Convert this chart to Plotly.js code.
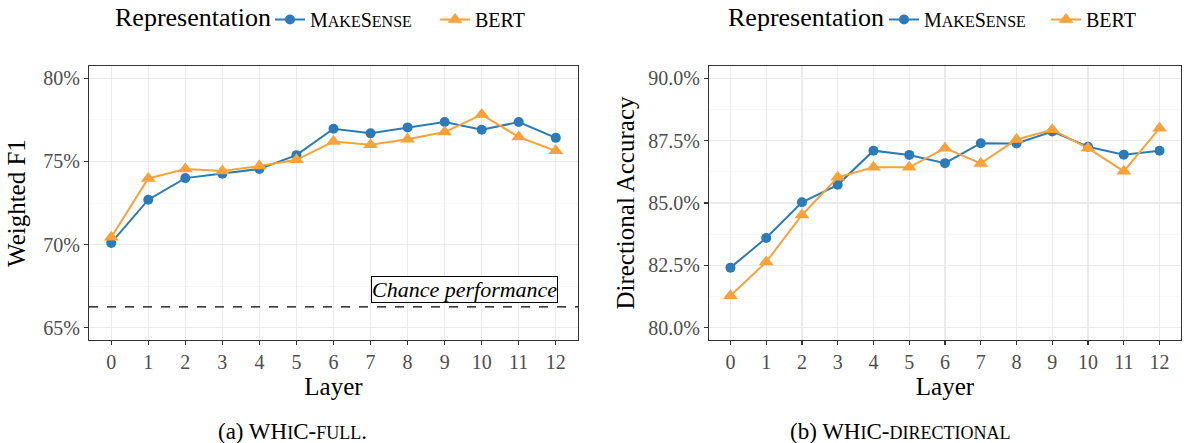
<!DOCTYPE html>
<html>
<head>
<meta charset="utf-8">
<script src="https://cdn.plot.ly/plotly-3.0.1.min.js"></script>
<style>html,body{margin:0;padding:0;background:#fff;}#chart{width:1184px;height:443px;}</style>
</head>
<body>
<div id="chart"></div>
<script>
const layers = [0,1,2,3,4,5,6,7,8,9,10,11,12];
const fullMakeSense = [70.1,72.7,74.0,74.26,74.55,75.38,76.97,76.69,77.05,77.37,76.91,77.37,76.42];
const fullBert      = [70.44,73.98,74.55,74.42,74.73,75.1,76.2,76.0,76.34,76.77,77.82,76.47,75.64];
const dirMakeSense  = [82.41,83.6,85.03,85.73,87.1,86.93,86.6,87.4,87.39,87.87,87.26,86.94,87.1];
const dirBert       = [81.28,82.64,84.52,86.03,86.43,86.43,87.2,86.59,87.55,87.94,87.2,86.27,88.0];
const chanceFull = 66.25;
const legendTitle = "Representation";
const seriesNames = ["M<span style='font-size:16px'>AKE</span>S<span style='font-size:16px'>ENSE</span>", "BERT"];
const captions = ["(a) WH<span style='font-size:18px'>I</span>C-<span style='font-size:18px'>FULL</span>.",
                  "(b) WH<span style='font-size:18px'>I</span>C-<span style='font-size:18px'>DIRECTIONAL</span>"];

const BLUE = "#2c7bb6", ORANGE = "#f8a23a";
const FONT = "Liberation Serif";

function tr(y, name, color, sym, size, xa, ya, leg){
  return {x: layers, y: y, name: name, type: "scatter", mode: "lines+markers",
    line: {color: color, width: 2}, marker: {color: color, symbol: sym, size: size},
    xaxis: xa, yaxis: ya, legend: leg, hoverinfo: "x+y"};
}
const data = [
  tr(fullMakeSense, seriesNames[0], BLUE, "circle", 10, "x", "y", "legend"),
  tr(fullBert, seriesNames[1], ORANGE, "triangle-up", 13, "x", "y", "legend3"),
  tr(dirMakeSense, seriesNames[0], BLUE, "circle", 10, "x2", "y2", "legend2"),
  tr(dirBert, seriesNames[1], ORANGE, "triangle-up", 13, "x2", "y2", "legend4")
];

function xax(dom, anchor){
  return {domain: dom, anchor: anchor, range: [-0.6, 12.6], tickvals: layers,
    showgrid: true, gridcolor: "#ebebeb", gridwidth: 1.1, zeroline: false,
    showline: true, mirror: true, linecolor: "#333333", linewidth: 1.1,
    ticks: "outside", ticklen: 4, tickcolor: "#333333", tickwidth: 1.1,
    tickfont: {family: FONT, size: 20, color: "#4d4d4d"},
    title: {text: "Layer", font: {family: FONT, size: 25, color: "#000"}, standoff: 4}};
}
function yax(dom, anchor, range, tick0, dtick, fmt, title, standoff){
  return {domain: dom, anchor: anchor, range: range, tick0: tick0, dtick: dtick,
    tickformat: fmt, ticksuffix: "%",
    showgrid: true, gridcolor: "#ebebeb", gridwidth: 1.1, zeroline: false,
    minor: {dtick: dtick/2, tick0: tick0, showgrid: true, gridcolor: "#f2f2f2", gridwidth: 0.6},
    showline: true, mirror: true, linecolor: "#333333", linewidth: 1.1,
    ticks: "outside", ticklen: 4, tickcolor: "#333333", tickwidth: 1.1,
    tickfont: {family: FONT, size: 20, color: "#4d4d4d"},
    title: {text: title, font: {family: FONT, size: 25, color: "#000"}, standoff: standoff}};
}
const yDom = [1 - 340/443, 1 - 65/443];
function leg(x){
  return {orientation: "h", x: x, xanchor: "left", y: 1.002, yanchor: "top",
    font: {family: FONT, size: 20, color: "#000"},
    bgcolor: "rgba(0,0,0,0)", itemwidth: 30, tracegroupgap: 0};
}
function legTitle(x){
  return {text: legendTitle, xref: "paper", x: x, xanchor: "left", yref: "paper", y: 1 - 17/443,
    yanchor: "middle", showarrow: false, font: {family: FONT, size: 26, color: "#000"}};
}
const layout = {
  width: 1184, height: 443, margin: {l: 0, r: 0, t: 0, b: 0},
  paper_bgcolor: "#fff", plot_bgcolor: "#fff",
  font: {family: FONT},
  showlegend: true,
  legend: leg(270/1184), legend2: leg(884/1184),
  legend3: leg(435/1184), legend4: leg(1046/1184),
  xaxis: xax([89/1184, 578/1184], "y"),
  yaxis: yax(yDom, "x", [64.25, 80.75], 65, 5, "d", "Weighted F1", 10),
  xaxis2: xax([709/1184, 1181/1184], "y2"),
  yaxis2: yax(yDom, "x2", [79.5, 90.5], 80, 2.5, ".1f", "Directional Accuracy", 6),
  shapes: [{type: "line", xref: "x domain", x0: 0, x1: 1, yref: "y", y0: chanceFull, y1: chanceFull,
    line: {color: "#000", width: 1.2, dash: "dash"}, layer: "above"}],
  annotations: [
    legTitle(113/1184), legTitle(726/1184),
    {text: "<i>Chance performance</i>", xref: "x", x: 12.05, xanchor: "right", yref: "y", y: chanceFull,
     yanchor: "bottom", yshift: 4, showarrow: false, font: {family: FONT, size: 22, color: "#000"},
     bgcolor: "#fff", bordercolor: "#000", borderwidth: 1, borderpad: 0},
    {text: captions[0], xref: "paper", x: 292/1184, xanchor: "center", yref: "paper", y: 1 - 431/443,
     yanchor: "middle", showarrow: false, font: {family: FONT, size: 23, color: "#000"}},
    {text: captions[1], xref: "paper", x: 900/1184, xanchor: "center", yref: "paper", y: 1 - 431/443,
     yanchor: "middle", showarrow: false, font: {family: FONT, size: 23, color: "#000"}}
  ]
};
Plotly.newPlot("chart", data, layout, {displayModeBar: false, staticPlot: true});
</script>
</body>
</html>
